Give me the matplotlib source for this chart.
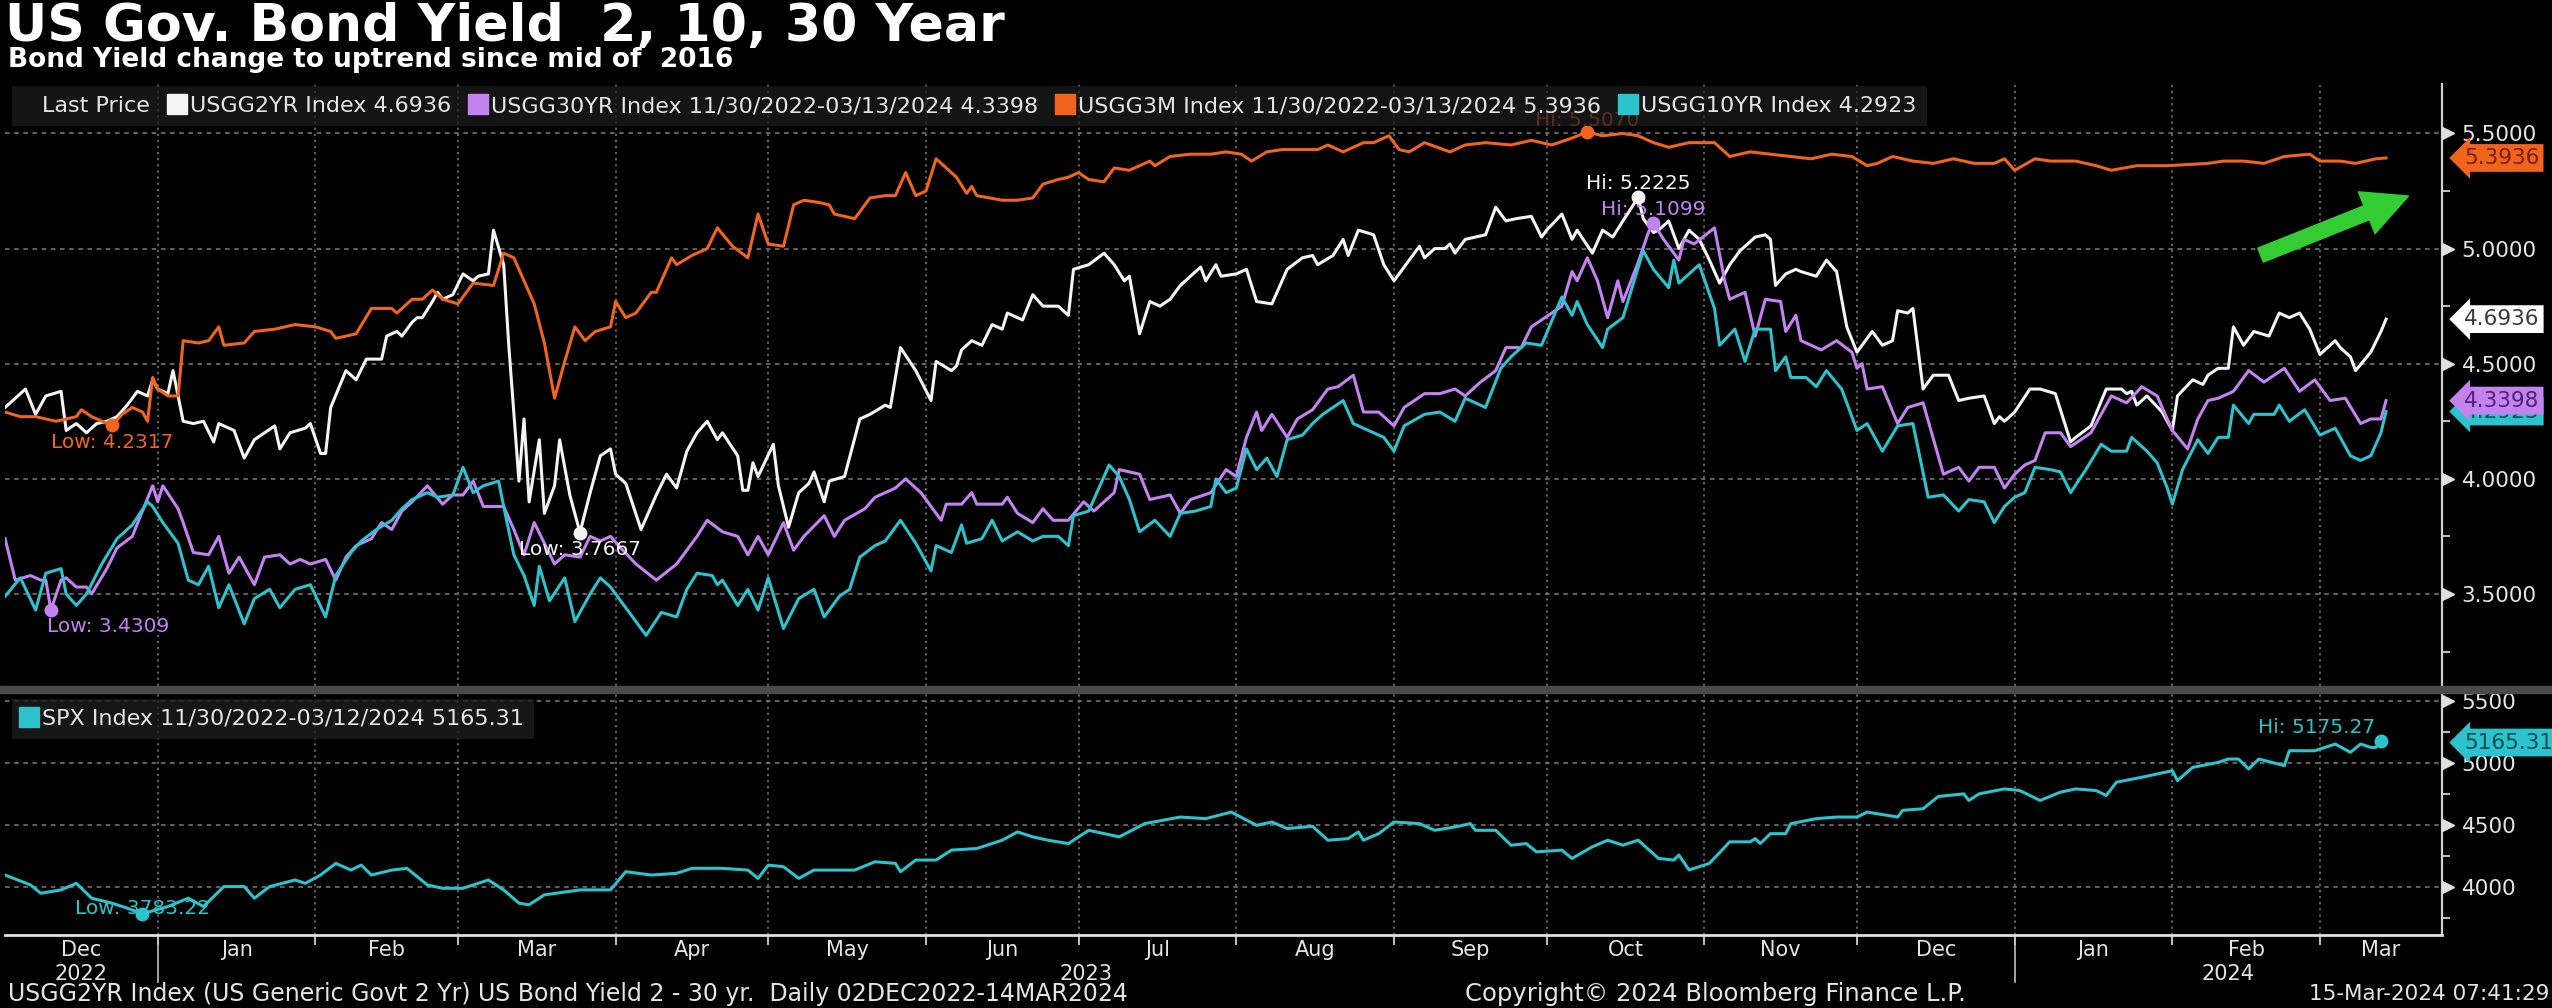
import matplotlib
matplotlib.use("Agg")
import matplotlib.pyplot as plt
import matplotlib.dates as mdates
import matplotlib.transforms as mtransforms
from matplotlib.lines import Line2D
from matplotlib.patches import Rectangle
import numpy as np
import pandas as pd

# USGG2YR (white)
y2_dates = ['2022-12-02', '2022-12-06', '2022-12-08', '2022-12-10', '2022-12-13', '2022-12-14', '2022-12-16',
            '2022-12-18', '2022-12-20', '2022-12-22', '2022-12-24', '2022-12-26', '2022-12-28', '2022-12-30',
            '2022-12-31', '2023-01-01', '2023-01-03', '2023-01-04', '2023-01-06', '2023-01-08', '2023-01-10',
            '2023-01-12', '2023-01-13', '2023-01-16', '2023-01-18', '2023-01-20', '2023-01-22', '2023-01-24',
            '2023-01-25', '2023-01-27', '2023-01-30', '2023-01-31', '2023-02-02', '2023-02-03', '2023-02-04',
            '2023-02-07', '2023-02-09', '2023-02-11', '2023-02-14', '2023-02-15', '2023-02-17', '2023-02-18',
            '2023-02-20', '2023-02-21', '2023-02-22', '2023-02-24', '2023-02-25', '2023-02-26', '2023-02-28',
            '2023-03-02', '2023-03-04', '2023-03-05', '2023-03-07', '2023-03-08', '2023-03-10', '2023-03-11',
            '2023-03-13', '2023-03-14', '2023-03-15', '2023-03-17', '2023-03-18', '2023-03-20', '2023-03-21',
            '2023-03-23', '2023-03-25', '2023-03-27', '2023-03-29', '2023-03-31', '2023-04-01', '2023-04-03',
            '2023-04-06', '2023-04-09', '2023-04-11', '2023-04-13', '2023-04-15', '2023-04-17', '2023-04-19',
            '2023-04-21', '2023-04-22', '2023-04-25', '2023-04-26', '2023-04-27', '2023-04-28', '2023-04-29',
            '2023-05-02', '2023-05-03', '2023-05-05', '2023-05-07', '2023-05-09', '2023-05-10', '2023-05-12',
            '2023-05-13', '2023-05-16', '2023-05-19', '2023-05-21', '2023-05-24', '2023-05-25', '2023-05-27',
            '2023-05-30', '2023-06-02', '2023-06-03', '2023-06-06', '2023-06-07', '2023-06-08', '2023-06-10',
            '2023-06-12', '2023-06-14', '2023-06-16', '2023-06-17', '2023-06-20', '2023-06-22', '2023-06-24',
            '2023-06-27', '2023-06-29', '2023-06-30', '2023-07-03', '2023-07-06', '2023-07-08', '2023-07-10',
            '2023-07-11', '2023-07-13', '2023-07-15', '2023-07-17', '2023-07-19', '2023-07-21', '2023-07-22',
            '2023-07-25', '2023-07-26', '2023-07-28', '2023-07-29', '2023-08-01', '2023-08-03', '2023-08-05',
            '2023-08-08', '2023-08-09', '2023-08-11', '2023-08-14', '2023-08-16', '2023-08-17', '2023-08-20',
            '2023-08-22', '2023-08-23', '2023-08-25', '2023-08-28', '2023-08-30', '2023-09-01', '2023-09-03',
            '2023-09-06', '2023-09-07', '2023-09-09', '2023-09-11', '2023-09-12', '2023-09-13', '2023-09-15',
            '2023-09-19', '2023-09-21', '2023-09-23', '2023-09-25', '2023-09-28', '2023-09-30', '2023-10-01',
            '2023-10-04', '2023-10-06', '2023-10-07', '2023-10-10', '2023-10-12', '2023-10-14', '2023-10-16',
            '2023-10-19', '2023-10-20', '2023-10-22', '2023-10-23', '2023-10-25', '2023-10-27', '2023-10-29',
            '2023-10-31', '2023-11-02', '2023-11-04', '2023-11-06', '2023-11-08', '2023-11-11', '2023-11-13',
            '2023-11-14', '2023-11-15', '2023-11-17', '2023-11-19', '2023-11-20', '2023-11-23', '2023-11-25',
            '2023-11-27', '2023-11-29', '2023-12-01', '2023-12-04', '2023-12-06', '2023-12-08', '2023-12-09',
            '2023-12-11', '2023-12-12', '2023-12-14', '2023-12-16', '2023-12-19', '2023-12-21', '2023-12-23',
            '2023-12-26', '2023-12-28', '2023-12-29', '2023-12-30', '2024-01-01', '2024-01-04', '2024-01-06',
            '2024-01-09', '2024-01-12', '2024-01-13', '2024-01-16', '2024-01-19', '2024-01-22', '2024-01-23',
            '2024-01-24', '2024-01-25', '2024-01-27', '2024-01-30', '2024-02-01', '2024-02-02', '2024-02-05',
            '2024-02-07', '2024-02-08', '2024-02-10', '2024-02-12', '2024-02-13', '2024-02-15', '2024-02-17',
            '2024-02-20', '2024-02-22', '2024-02-24', '2024-02-26', '2024-02-28', '2024-03-01', '2024-03-04',
            '2024-03-05', '2024-03-07', '2024-03-08', '2024-03-11', '2024-03-13', '2024-03-14']
y2_vals = [4.31, 4.39, 4.28, 4.36, 4.38, 4.21, 4.24, 4.20, 4.24, 4.25, 4.27, 4.32, 4.38, 4.36,
           4.43, 4.39, 4.37, 4.47, 4.25, 4.24, 4.25, 4.16, 4.24, 4.21, 4.09, 4.17, 4.20, 4.23,
           4.13, 4.20, 4.22, 4.24, 4.11, 4.11, 4.31, 4.47, 4.43, 4.52, 4.52, 4.62, 4.64, 4.62,
           4.68, 4.70, 4.70, 4.77, 4.81, 4.78, 4.80, 4.89, 4.86, 4.88, 4.89, 5.08, 4.93, 4.58,
           3.99, 4.26, 3.90, 4.17, 3.85, 3.97, 4.17, 3.93, 3.7667, 3.94, 4.10, 4.13, 4.02, 3.98,
           3.78, 3.93, 4.02, 3.96, 4.12, 4.20, 4.25, 4.17, 4.20, 4.10, 3.95, 3.95, 4.07, 4.01,
           4.15, 3.97, 3.79, 3.94, 3.98, 4.03, 3.90, 3.99, 4.01, 4.26, 4.28, 4.32, 4.31, 4.57,
           4.47, 4.34, 4.51, 4.47, 4.49, 4.56, 4.60, 4.58, 4.67, 4.65, 4.72, 4.69, 4.80, 4.75,
           4.75, 4.71, 4.91, 4.93, 4.98, 4.93, 4.86, 4.88, 4.63, 4.77, 4.75, 4.78, 4.84, 4.86,
           4.92, 4.86, 4.93, 4.88, 4.89, 4.91, 4.77, 4.76, 4.81, 4.91, 4.96, 4.97, 4.93, 4.97,
           5.04, 4.97, 5.08, 5.06, 4.93, 4.86, 4.92, 5.01, 4.96, 5.00, 5.00, 5.02, 4.98, 5.04,
           5.06, 5.18, 5.12, 5.13, 5.14, 5.05, 5.08, 5.15, 5.04, 5.08, 4.98, 5.08, 5.05, 5.12,
           5.2225, 5.13, 5.07, 5.08, 5.12, 5.00, 5.08, 5.04, 4.95, 4.85, 4.93, 4.99, 5.05, 5.06,
           5.04, 4.84, 4.89, 4.91, 4.90, 4.88, 4.95, 4.90, 4.66, 4.55, 4.64, 4.58, 4.60, 4.73,
           4.72, 4.74, 4.39, 4.45, 4.45, 4.34, 4.35, 4.36, 4.24, 4.27, 4.25, 4.29, 4.39, 4.39,
           4.37, 4.16, 4.18, 4.23, 4.39, 4.39, 4.37, 4.38, 4.32, 4.36, 4.29, 4.21, 4.36, 4.43,
           4.41, 4.45, 4.48, 4.48, 4.66, 4.58, 4.64, 4.62, 4.72, 4.70, 4.72, 4.65, 4.54, 4.60,
           4.57, 4.53, 4.47, 4.55, 4.64, 4.6936]

# USGG30YR (purple)
y30_dates = ['2022-12-02', '2022-12-04', '2022-12-07', '2022-12-09', '2022-12-10', '2022-12-11', '2022-12-13',
             '2022-12-14', '2022-12-16', '2022-12-18', '2022-12-19', '2022-12-22', '2022-12-24', '2022-12-27',
             '2022-12-29', '2022-12-31', '2023-01-01', '2023-01-02', '2023-01-05', '2023-01-06', '2023-01-08',
             '2023-01-11', '2023-01-13', '2023-01-15', '2023-01-17', '2023-01-20', '2023-01-22', '2023-01-25',
             '2023-01-27', '2023-01-29', '2023-01-31', '2023-02-03', '2023-02-05', '2023-02-07', '2023-02-09',
             '2023-02-12', '2023-02-14', '2023-02-16', '2023-02-18', '2023-02-20', '2023-02-23', '2023-02-26',
             '2023-02-28', '2023-03-02', '2023-03-04', '2023-03-06', '2023-03-08', '2023-03-10', '2023-03-12',
             '2023-03-14', '2023-03-16', '2023-03-18', '2023-03-20', '2023-03-22', '2023-03-25', '2023-03-27',
             '2023-03-29', '2023-03-31', '2023-04-02', '2023-04-05', '2023-04-09', '2023-04-13', '2023-04-15',
             '2023-04-17', '2023-04-19', '2023-04-22', '2023-04-25', '2023-04-27', '2023-04-29', '2023-05-01',
             '2023-05-04', '2023-05-06', '2023-05-08', '2023-05-12', '2023-05-14', '2023-05-16', '2023-05-20',
             '2023-05-22', '2023-05-26', '2023-05-28', '2023-05-31', '2023-06-04', '2023-06-05', '2023-06-08',
             '2023-06-10', '2023-06-11', '2023-06-16', '2023-06-17', '2023-06-19', '2023-06-22', '2023-06-24',
             '2023-06-26', '2023-06-29', '2023-07-02', '2023-07-04', '2023-07-08', '2023-07-09', '2023-07-13',
             '2023-07-15', '2023-07-19', '2023-07-21', '2023-07-23', '2023-07-27', '2023-07-30', '2023-08-01',
             '2023-08-03', '2023-08-05', '2023-08-06', '2023-08-08', '2023-08-11', '2023-08-13', '2023-08-16',
             '2023-08-19', '2023-08-21', '2023-08-24', '2023-08-26', '2023-08-29', '2023-09-01', '2023-09-03',
             '2023-09-07', '2023-09-10', '2023-09-13', '2023-09-15', '2023-09-18', '2023-09-21', '2023-09-23',
             '2023-09-26', '2023-09-28', '2023-10-02', '2023-10-04', '2023-10-06', '2023-10-07', '2023-10-09',
             '2023-10-11', '2023-10-13', '2023-10-15', '2023-10-16', '2023-10-19', '2023-10-21', '2023-10-22',
             '2023-10-24', '2023-10-27', '2023-10-28', '2023-10-30', '2023-11-03', '2023-11-05', '2023-11-06',
             '2023-11-09', '2023-11-11', '2023-11-13', '2023-11-16', '2023-11-17', '2023-11-19', '2023-11-20',
             '2023-11-24', '2023-11-27', '2023-11-30', '2023-12-01', '2023-12-02', '2023-12-03', '2023-12-06',
             '2023-12-09', '2023-12-11', '2023-12-14', '2023-12-18', '2023-12-21', '2023-12-23', '2023-12-25',
             '2023-12-28', '2023-12-30', '2024-01-01', '2024-01-03', '2024-01-05', '2024-01-07', '2024-01-10',
             '2024-01-12', '2024-01-16', '2024-01-20', '2024-01-23', '2024-01-26', '2024-01-29', '2024-02-01',
             '2024-02-04', '2024-02-06', '2024-02-08', '2024-02-10', '2024-02-13', '2024-02-16', '2024-02-19',
             '2024-02-21', '2024-02-23', '2024-02-26', '2024-02-29', '2024-03-03', '2024-03-06', '2024-03-09',
             '2024-03-11', '2024-03-13', '2024-03-14']
y30_vals = [3.74, 3.56, 3.58, 3.56, 3.56, 3.4309, 3.56, 3.57, 3.53, 3.53, 3.50, 3.61, 3.70, 3.75,
            3.86, 3.97, 3.90, 3.97, 3.87, 3.81, 3.68, 3.67, 3.75, 3.59, 3.66, 3.54, 3.66, 3.67,
            3.63, 3.65, 3.63, 3.65, 3.56, 3.66, 3.71, 3.74, 3.81, 3.78, 3.86, 3.90, 3.97, 3.89,
            3.93, 3.93, 3.99, 3.88, 3.88, 3.88, 3.78, 3.67, 3.81, 3.72, 3.63, 3.67, 3.66, 3.75,
            3.73, 3.75, 3.70, 3.63, 3.56, 3.63, 3.69, 3.75, 3.82, 3.77, 3.75, 3.67, 3.75, 3.67,
            3.81, 3.69, 3.75, 3.84, 3.75, 3.82, 3.87, 3.92, 3.96, 4.00, 3.94, 3.82, 3.89, 3.89,
            3.94, 3.89, 3.89, 3.92, 3.85, 3.81, 3.87, 3.82, 3.82, 3.90, 3.86, 3.94, 4.04, 4.02,
            3.91, 3.93, 3.85, 3.91, 3.94, 4.04, 4.01, 4.18, 4.29, 4.21, 4.28, 4.18, 4.26, 4.30,
            4.39, 4.40, 4.45, 4.29, 4.29, 4.23, 4.31, 4.37, 4.37, 4.39, 4.36, 4.42, 4.47, 4.57,
            4.57, 4.66, 4.72, 4.75, 4.90, 4.86, 4.96, 4.86, 4.70, 4.86, 4.77, 4.94, 5.07, 5.1099,
            5.04, 4.95, 5.04, 5.02, 5.09, 4.86, 4.78, 4.81, 4.62, 4.78, 4.77, 4.64, 4.71, 4.60,
            4.56, 4.60, 4.55, 4.48, 4.50, 4.39, 4.40, 4.24, 4.31, 4.33, 4.02, 4.05, 3.99, 4.05,
            4.05, 3.96, 4.02, 4.06, 4.08, 4.20, 4.20, 4.14, 4.20, 4.36, 4.33, 4.40, 4.36, 4.21,
            4.13, 4.26, 4.34, 4.35, 4.38, 4.47, 4.42, 4.45, 4.48, 4.38, 4.43, 4.34, 4.35, 4.24,
            4.26, 4.26, 4.3398]

# USGG3M (orange)
y3m_dates = ['2022-12-02', '2022-12-05', '2022-12-08', '2022-12-10', '2022-12-12', '2022-12-14', '2022-12-16',
             '2022-12-17', '2022-12-19', '2022-12-23', '2022-12-25', '2022-12-27', '2022-12-29', '2022-12-30',
             '2022-12-31', '2023-01-01', '2023-01-03', '2023-01-05', '2023-01-06', '2023-01-09', '2023-01-11',
             '2023-01-13', '2023-01-14', '2023-01-18', '2023-01-20', '2023-01-24', '2023-01-28', '2023-02-01',
             '2023-02-04', '2023-02-05', '2023-02-09', '2023-02-12', '2023-02-16', '2023-02-17', '2023-02-20',
             '2023-02-22', '2023-02-24', '2023-02-26', '2023-03-01', '2023-03-04', '2023-03-08', '2023-03-10',
             '2023-03-12', '2023-03-14', '2023-03-16', '2023-03-18', '2023-03-20', '2023-03-22', '2023-03-24',
             '2023-03-26', '2023-03-28', '2023-03-31', '2023-04-01', '2023-04-03', '2023-04-05', '2023-04-08',
             '2023-04-09', '2023-04-12', '2023-04-13', '2023-04-16', '2023-04-19', '2023-04-21', '2023-04-24',
             '2023-04-27', '2023-04-29', '2023-05-01', '2023-05-04', '2023-05-06', '2023-05-08', '2023-05-11',
             '2023-05-13', '2023-05-14', '2023-05-18', '2023-05-21', '2023-05-24', '2023-05-26', '2023-05-28',
             '2023-05-30', '2023-06-01', '2023-06-03', '2023-06-05', '2023-06-07', '2023-06-09', '2023-06-10',
             '2023-06-11', '2023-06-16', '2023-06-19', '2023-06-22', '2023-06-24', '2023-06-27', '2023-06-29',
             '2023-07-01', '2023-07-03', '2023-07-06', '2023-07-08', '2023-07-11', '2023-07-15', '2023-07-16',
             '2023-07-19', '2023-07-23', '2023-07-27', '2023-07-30', '2023-08-02', '2023-08-04', '2023-08-07',
             '2023-08-10', '2023-08-14', '2023-08-17', '2023-08-19', '2023-08-22', '2023-08-26', '2023-08-28',
             '2023-08-31', '2023-09-02', '2023-09-04', '2023-09-07', '2023-09-12', '2023-09-15', '2023-09-19',
             '2023-09-24', '2023-09-28', '2023-10-02', '2023-10-06', '2023-10-09', '2023-10-12', '2023-10-16',
             '2023-10-19', '2023-10-22', '2023-10-25', '2023-10-29', '2023-11-03', '2023-11-06', '2023-11-10',
             '2023-11-14', '2023-11-18', '2023-11-22', '2023-11-26', '2023-11-30', '2023-12-03', '2023-12-05',
             '2023-12-08', '2023-12-12', '2023-12-16', '2023-12-20', '2023-12-24', '2023-12-28', '2023-12-30',
             '2024-01-01', '2024-01-05', '2024-01-08', '2024-01-13', '2024-01-17', '2024-01-20', '2024-01-25',
             '2024-01-31', '2024-02-08', '2024-02-11', '2024-02-15', '2024-02-19', '2024-02-23', '2024-02-28',
             '2024-03-01', '2024-03-05', '2024-03-08', '2024-03-10', '2024-03-12', '2024-03-14']
y3m_vals = [4.29, 4.27, 4.27, 4.26, 4.25, 4.26, 4.27, 4.30, 4.27, 4.2317, 4.28, 4.31, 4.29, 4.25,
            4.44, 4.39, 4.36, 4.36, 4.60, 4.59, 4.60, 4.66, 4.58, 4.59, 4.64, 4.65, 4.67, 4.66,
            4.64, 4.61, 4.63, 4.74, 4.74, 4.72, 4.78, 4.78, 4.82, 4.78, 4.76, 4.85, 4.84, 4.98,
            4.96, 4.86, 4.76, 4.59, 4.35, 4.51, 4.66, 4.60, 4.64, 4.66, 4.77, 4.70, 4.72, 4.81,
            4.81, 4.96, 4.93, 4.97, 5.00, 5.09, 5.01, 4.96, 5.15, 5.02, 5.01, 5.19, 5.21, 5.20,
            5.19, 5.15, 5.13, 5.22, 5.23, 5.23, 5.33, 5.23, 5.25, 5.39, 5.35, 5.31, 5.24, 5.27,
            5.23, 5.21, 5.21, 5.22, 5.28, 5.30, 5.31, 5.33, 5.30, 5.29, 5.35, 5.34, 5.38, 5.36,
            5.40, 5.41, 5.41, 5.42, 5.41, 5.38, 5.42, 5.43, 5.43, 5.43, 5.45, 5.42, 5.46, 5.46,
            5.49, 5.43, 5.42, 5.46, 5.42, 5.45, 5.46, 5.45, 5.47, 5.45, 5.48, 5.507, 5.49, 5.50,
            5.49, 5.46, 5.44, 5.46, 5.46, 5.40, 5.42, 5.41, 5.40, 5.39, 5.41, 5.40, 5.36, 5.37,
            5.40, 5.38, 5.37, 5.39, 5.37, 5.37, 5.39, 5.34, 5.39, 5.38, 5.38, 5.36, 5.34, 5.36,
            5.36, 5.37, 5.38, 5.38, 5.37, 5.40, 5.41, 5.38, 5.38, 5.37, 5.38, 5.39, 5.3936]

# USGG10YR (cyan)
y10_dates = ['2022-12-02', '2022-12-05', '2022-12-08', '2022-12-10', '2022-12-13', '2022-12-14', '2022-12-16',
             '2022-12-18', '2022-12-21', '2022-12-24', '2022-12-27', '2022-12-30', '2022-12-31', '2023-01-02',
             '2023-01-05', '2023-01-07', '2023-01-09', '2023-01-11', '2023-01-13', '2023-01-15', '2023-01-18',
             '2023-01-20', '2023-01-23', '2023-01-25', '2023-01-28', '2023-01-31', '2023-02-03', '2023-02-05',
             '2023-02-08', '2023-02-10', '2023-02-13', '2023-02-16', '2023-02-18', '2023-02-20', '2023-02-23',
             '2023-02-25', '2023-02-28', '2023-03-02', '2023-03-04', '2023-03-06', '2023-03-09', '2023-03-10',
             '2023-03-12', '2023-03-14', '2023-03-16', '2023-03-17', '2023-03-19', '2023-03-22', '2023-03-24',
             '2023-03-27', '2023-03-29', '2023-03-31', '2023-04-04', '2023-04-07', '2023-04-10', '2023-04-13',
             '2023-04-15', '2023-04-17', '2023-04-20', '2023-04-21', '2023-04-22', '2023-04-25', '2023-04-27',
             '2023-04-29', '2023-05-01', '2023-05-04', '2023-05-07', '2023-05-10', '2023-05-12', '2023-05-15',
             '2023-05-17', '2023-05-19', '2023-05-22', '2023-05-24', '2023-05-27', '2023-05-30', '2023-06-02',
             '2023-06-03', '2023-06-06', '2023-06-08', '2023-06-09', '2023-06-12', '2023-06-14', '2023-06-16',
             '2023-06-19', '2023-06-22', '2023-06-24', '2023-06-27', '2023-06-29', '2023-06-30', '2023-07-03',
             '2023-07-07', '2023-07-09', '2023-07-11', '2023-07-13', '2023-07-16', '2023-07-19', '2023-07-21',
             '2023-07-24', '2023-07-27', '2023-07-28', '2023-07-30', '2023-08-01', '2023-08-03', '2023-08-05',
             '2023-08-07', '2023-08-09', '2023-08-11', '2023-08-14', '2023-08-16', '2023-08-18', '2023-08-22',
             '2023-08-24', '2023-08-27', '2023-08-30', '2023-09-01', '2023-09-03', '2023-09-07', '2023-09-10',
             '2023-09-13', '2023-09-15', '2023-09-19', '2023-09-22', '2023-09-24', '2023-09-27', '2023-09-30',
             '2023-10-04', '2023-10-06', '2023-10-07', '2023-10-09', '2023-10-12', '2023-10-13', '2023-10-16',
             '2023-10-20', '2023-10-22', '2023-10-25', '2023-10-26', '2023-10-27', '2023-10-31', '2023-11-03',
             '2023-11-04', '2023-11-07', '2023-11-09', '2023-11-11', '2023-11-14', '2023-11-15', '2023-11-17',
             '2023-11-18', '2023-11-21', '2023-11-23', '2023-11-25', '2023-11-28', '2023-12-01', '2023-12-03',
             '2023-12-06', '2023-12-09', '2023-12-12', '2023-12-15', '2023-12-18', '2023-12-21', '2023-12-23',
             '2023-12-26', '2023-12-28', '2023-12-30', '2024-01-01', '2024-01-03', '2024-01-05', '2024-01-08',
             '2024-01-10', '2024-01-12', '2024-01-15', '2024-01-18', '2024-01-20', '2024-01-23', '2024-01-24',
             '2024-01-27', '2024-01-29', '2024-01-31', '2024-02-01', '2024-02-03', '2024-02-06', '2024-02-08',
             '2024-02-10', '2024-02-12', '2024-02-13', '2024-02-16', '2024-02-17', '2024-02-21', '2024-02-22',
             '2024-02-24', '2024-02-27', '2024-03-01', '2024-03-04', '2024-03-07', '2024-03-09', '2024-03-11',
             '2024-03-13', '2024-03-14']
y10_vals = [3.49, 3.57, 3.43, 3.59, 3.61, 3.50, 3.45, 3.50, 3.63, 3.74, 3.80, 3.90, 3.88, 3.81,
            3.72, 3.56, 3.54, 3.62, 3.44, 3.54, 3.37, 3.48, 3.52, 3.44, 3.52, 3.54, 3.40, 3.58,
            3.68, 3.73, 3.78, 3.82, 3.87, 3.91, 3.94, 3.92, 3.93, 4.05, 3.94, 3.97, 3.99, 3.88,
            3.67, 3.58, 3.45, 3.62, 3.47, 3.57, 3.38, 3.50, 3.57, 3.53, 3.41, 3.32, 3.42, 3.40,
            3.52, 3.59, 3.58, 3.54, 3.56, 3.45, 3.52, 3.43, 3.57, 3.35, 3.48, 3.52, 3.40, 3.49,
            3.52, 3.66, 3.71, 3.73, 3.82, 3.72, 3.60, 3.71, 3.68, 3.80, 3.72, 3.74, 3.82, 3.73,
            3.77, 3.73, 3.75, 3.75, 3.71, 3.84, 3.86, 4.06, 4.01, 3.91, 3.77, 3.82, 3.75, 3.85,
            3.86, 3.88, 4.00, 3.94, 3.96, 4.13, 4.04, 4.09, 4.01, 4.17, 4.19, 4.24, 4.28, 4.34,
            4.24, 4.21, 4.18, 4.12, 4.23, 4.28, 4.29, 4.25, 4.35, 4.31, 4.48, 4.53, 4.59, 4.58,
            4.79, 4.71, 4.77, 4.67, 4.57, 4.65, 4.70, 4.99, 4.91, 4.83, 4.95, 4.85, 4.93, 4.74,
            4.58, 4.65, 4.51, 4.65, 4.65, 4.47, 4.53, 4.44, 4.44, 4.40, 4.47, 4.39, 4.21, 4.24,
            4.12, 4.23, 4.24, 3.92, 3.93, 3.86, 3.91, 3.90, 3.81, 3.88, 3.92, 3.94, 4.05, 4.04,
            4.03, 3.94, 4.04, 4.15, 4.12, 4.12, 4.18, 4.12, 4.07, 3.96, 3.89, 4.04, 4.17, 4.11,
            4.18, 4.18, 4.32, 4.24, 4.28, 4.28, 4.32, 4.25, 4.30, 4.19, 4.22, 4.10, 4.08, 4.10,
            4.20, 4.2923]

# SPX Index (lower panel)
spx_dates = ['2022-12-02', '2022-12-07', '2022-12-09', '2022-12-13', '2022-12-16', '2022-12-19', '2022-12-23',
             '2022-12-26', '2022-12-29', '2023-01-03', '2023-01-07', '2023-01-10', '2023-01-14', '2023-01-18',
             '2023-01-20', '2023-01-23', '2023-01-28', '2023-01-30', '2023-02-02', '2023-02-05', '2023-02-08',
             '2023-02-10', '2023-02-12', '2023-02-16', '2023-02-19', '2023-02-23', '2023-02-26', '2023-03-02',
             '2023-03-07', '2023-03-10', '2023-03-13', '2023-03-15', '2023-03-18', '2023-03-25', '2023-03-31',
             '2023-04-03', '2023-04-08', '2023-04-13', '2023-04-16', '2023-04-22', '2023-04-27', '2023-04-29',
             '2023-05-01', '2023-05-04', '2023-05-07', '2023-05-10', '2023-05-18', '2023-05-22', '2023-05-26',
             '2023-05-27', '2023-05-30', '2023-06-03', '2023-06-06', '2023-06-11', '2023-06-16', '2023-06-19',
             '2023-06-22', '2023-06-25', '2023-06-29', '2023-07-03', '2023-07-09', '2023-07-14', '2023-07-21',
             '2023-07-26', '2023-07-31', '2023-08-05', '2023-08-08', '2023-08-11', '2023-08-16', '2023-08-19',
             '2023-08-23', '2023-08-25', '2023-08-26', '2023-08-29', '2023-09-01', '2023-09-06', '2023-09-09',
             '2023-09-13', '2023-09-16', '2023-09-17', '2023-09-21', '2023-09-24', '2023-09-27', '2023-09-29',
             '2023-10-04', '2023-10-06', '2023-10-10', '2023-10-13', '2023-10-16', '2023-10-19', '2023-10-23',
             '2023-10-26', '2023-10-27', '2023-10-29', '2023-11-02', '2023-11-06', '2023-11-10', '2023-11-11',
             '2023-11-12', '2023-11-14', '2023-11-17', '2023-11-18', '2023-11-23', '2023-11-27', '2023-12-01',
             '2023-12-03', '2023-12-09', '2023-12-10', '2023-12-14', '2023-12-17', '2023-12-22', '2023-12-23',
             '2023-12-25', '2023-12-30', '2024-01-02', '2024-01-06', '2024-01-10', '2024-01-13', '2024-01-17',
             '2024-01-19', '2024-01-21', '2024-01-26', '2024-02-01', '2024-02-02', '2024-02-05', '2024-02-10',
             '2024-02-12', '2024-02-14', '2024-02-16', '2024-02-18', '2024-02-23', '2024-02-24', '2024-02-29',
             '2024-03-04', '2024-03-07', '2024-03-09', '2024-03-11', '2024-03-12', '2024-03-13', '2024-03-14']
spx_vals = [4096, 4016, 3949, 3976, 4029, 3909, 3869, 3829, 3783.22, 3842, 3909, 3842, 4003, 4003,
            3909, 4003, 4056, 4029, 4096, 4190, 4136, 4176, 4096, 4136, 4150, 4016, 3989, 3989,
            4056, 3976, 3869, 3856, 3936, 3976, 3976, 4123, 4096, 4110, 4150, 4150, 4136, 4069,
            4176, 4163, 4069, 4136, 4136, 4203, 4190, 4123, 4217, 4217, 4297, 4310, 4377, 4444,
            4404, 4377, 4350, 4457, 4404, 4511, 4564, 4551, 4604, 4497, 4524, 4471, 4489, 4377,
            4390, 4444, 4377, 4430, 4524, 4511, 4457, 4484, 4511, 4457, 4457, 4337, 4350, 4283,
            4297, 4230, 4324, 4377, 4337, 4377, 4230, 4217, 4257, 4137, 4190, 4364, 4364, 4390,
            4350, 4430, 4430, 4511, 4551, 4564, 4564, 4604, 4564, 4618, 4631, 4730, 4751, 4698,
            4751, 4791, 4778, 4698, 4765, 4791, 4778, 4738, 4845, 4885, 4938, 4858, 4965, 5005,
            5032, 5032, 4952, 5032, 4979, 5099, 5099, 5153, 5086, 5153, 5126, 5126, 5175.27, 5165.31]

yield_ticks = [3.5, 4.0, 4.5, 5.0, 5.5]
spx_ticks = [4000, 4500, 5000, 5500]

C_2Y = '#f4f4f4'
C_30Y = '#c382f0'
C_3M = '#f0641e'
C_10Y = '#2cc3cc'
GRID = '#7c7c7c'
TXT = '#e4e4e4'

x_start = pd.Timestamp('2022-12-02')
x_end = pd.Timestamp('2024-03-25')

series = [
    ('USGG2YR Index', pd.to_datetime(y2_dates), np.array(y2_vals), C_2Y, ''),
    ('USGG30YR Index', pd.to_datetime(y30_dates), np.array(y30_vals), C_30Y, ' 11/30/2022-03/13/2024'),
    ('USGG3M Index', pd.to_datetime(y3m_dates), np.array(y3m_vals), C_3M, ' 11/30/2022-03/13/2024'),
    ('USGG10YR Index', pd.to_datetime(y10_dates), np.array(y10_vals), C_10Y, ''),
]
spx_x = pd.to_datetime(spx_dates)
spx_y = np.array(spx_vals)

plt.rcParams['font.family'] = 'DejaVu Sans'

fig = plt.figure(figsize=(25.52, 10.08), dpi=100, facecolor='black')
ax1 = fig.add_axes([0.002, 0.3194, 0.9549, 0.5973], facecolor='black')
ax2 = fig.add_axes([0.002, 0.0724, 0.9549, 0.2401], facecolor='black', sharex=ax1)

for name, x, y, c, rng in series:
    ax1.plot(x, y, color=c, lw=2.2, zorder=3)
ax2.plot(spx_x, spx_y, color=C_10Y, lw=2.2, zorder=3)

ax1.set_xlim(x_start, x_end)
ax1.set_ylim(3.10, 5.715)
ax2.set_ylim(3612, 5565)

for ax in (ax1, ax2):
    for s in ('top', 'left', 'bottom'):
        ax.spines[s].set_visible(False)
    ax.spines['right'].set_color('#d0d0d0')
    ax.spines['right'].set_linewidth(1.6)
    ax.yaxis.tick_right()
    ax.xaxis.set_major_locator(mdates.MonthLocator())
    ax.grid(True, axis='x', color=GRID, ls=(0, (1.5, 2.5)), lw=1.1)
    ax.grid(True, axis='y', color=GRID, ls=(0, (3, 3)), lw=1.1)
    ax.tick_params(axis='y', which='major', length=0, pad=14, labelsize=15.5, labelcolor=TXT)
    ax.tick_params(axis='y', which='minor', length=6, width=1.3, color='#d0d0d0', direction='out')

ax2.spines['bottom'].set_visible(True)
ax2.spines['bottom'].set_color('#e0e0e0')
ax2.spines['bottom'].set_linewidth(2)

ax1.set_yticks(yield_ticks)
ax1.set_yticks([t + 0.25 for t in yield_ticks[:-1]] + [3.25], minor=True)
ax1.set_yticklabels([f'{t:.4f}' for t in yield_ticks])
ax2.set_yticks(spx_ticks)
ax2.set_yticks([t - 250 for t in spx_ticks], minor=True)
ax2.set_yticklabels([f'{t:d}' for t in spx_ticks])

ax1.tick_params(axis='x', length=0, labelbottom=False)
ax2.tick_params(axis='x', which='major', length=7, width=1.3, color='#d0d0d0', direction='out', labelbottom=False)

# triangle markers at the major y ticks
for ax, ticks in ((ax1, yield_ticks), (ax2, spx_ticks)):
    tr = mtransforms.blended_transform_factory(ax.transAxes, ax.transData) + \
        mtransforms.ScaledTranslation(4 / 72, 0, fig.dpi_scale_trans)
    ax.plot([1] * len(ticks), ticks, ls='none', marker='>', ms=9, color='#e0e0e0',
            transform=tr, clip_on=False, zorder=6)

# month and year labels along the bottom axis
months = pd.date_range('2022-12-01', '2024-03-01', freq='MS')
for m in months:
    a = max(m, x_start)
    b = min(m + pd.offsets.MonthBegin(1), x_end)
    ax2.text(a + (b - a) / 2, -0.062, m.strftime('%b'), transform=ax2.get_xaxis_transform(),
             ha='center', va='center', fontsize=15, color=TXT)
for yr in (2022, 2023, 2024):
    a = max(pd.Timestamp(f'{yr}-01-01'), x_start)
    b = min(pd.Timestamp(f'{yr + 1}-01-01'), x_end)
    ax2.text(a + (b - a) / 2, -0.16, str(yr), transform=ax2.get_xaxis_transform(),
             ha='center', va='center', fontsize=15, color=TXT)
    if yr > 2022:
        ax2.axvline(pd.Timestamp(f'{yr}-01-01'), ymin=-0.195, ymax=0, color='#c0c0c0', lw=1.2, clip_on=False)

# legends
handles = [Line2D([], [], ls='none')]
labels = ['Last Price']
for name, x, y, c, rng in series:
    handles.append(Line2D([], [], ls='none', marker='s', ms=15, color=c))
    labels.append(f'{name}{rng} {y[-1]:.4f}')
leg = ax1.legend(handles, labels, loc='upper left', bbox_to_anchor=(0.002, 1.0), ncol=5, fontsize=16,
                 frameon=True, fancybox=False, facecolor='#1c1c1c', edgecolor='none', framealpha=0.72,
                 labelcolor=TXT, handlelength=0.6, handletextpad=0.3, columnspacing=0.9,
                 borderpad=0.45, borderaxespad=0.1)
leg.set_zorder(8)

leg2 = ax2.legend([Line2D([], [], ls='none', marker='s', ms=15, color=C_10Y)],
                  [f'SPX Index 11/30/2022-03/12/2024 {spx_y[-1]:.2f}'], loc='upper left',
                  bbox_to_anchor=(0.002, 0.985), fontsize=16, frameon=True, fancybox=False,
                  facecolor='#1c1c1c', edgecolor='none', framealpha=0.8, labelcolor=TXT,
                  handlelength=0.6, handletextpad=0.3, borderpad=0.45, borderaxespad=0.1)
leg2.set_zorder(8)


def mark(ax, x, y, kind, color, fmt, dx, dy, ha):
    i = int(np.argmax(y)) if kind == 'Hi' else int(np.argmin(y))
    ax.plot(x[i], y[i], 'o', color=color, ms=9, zorder=5)
    ax.annotate(f'{kind}: {y[i]:{fmt}}', xy=(x[i], y[i]), xytext=(dx, dy), textcoords='offset points',
                ha=ha, va='center', fontsize=14.5, color=color, zorder=4)


s2, s30, s3m, s10 = series
mark(ax1, s3m[1], s3m[2], 'Hi', C_3M, '.4f', 0, 8, 'center')
mark(ax1, s3m[1], s3m[2], 'Low', C_3M, '.4f', 0, -12, 'center')
mark(ax1, s2[1], s2[2], 'Hi', C_2Y, '.4f', 0, 10, 'center')
mark(ax1, s2[1], s2[2], 'Low', C_2Y, '.4f', 0, -12, 'center')
mark(ax1, s30[1], s30[2], 'Hi', C_30Y, '.4f', 0, 10, 'center')
mark(ax1, s30[1], s30[2], 'Low', C_30Y, '.4f', -3, -12, 'left')
mark(ax2, spx_x, spx_y, 'Hi', C_10Y, '.2f', -4, 10, 'right')
mark(ax2, spx_x, spx_y, 'Low', C_10Y, '.2f', 0, 4, 'center')


def price_tag(ax, value, text, fc, tc):
    tr = mtransforms.blended_transform_factory(ax.transAxes, ax.transData) + \
        mtransforms.ScaledTranslation(16 / 72, 0, fig.dpi_scale_trans)
    ax.text(1.0, value, text, transform=tr, ha='left', va='center', fontsize=15.5, color=tc,
            bbox=dict(boxstyle='larrow,pad=0.18', fc=fc, ec='none'), clip_on=False, zorder=7)


price_tag(ax1, s10[2][-1], f'{s10[2][-1]:.4f}', C_10Y, '#0d4d52')
price_tag(ax1, s30[2][-1], f'{s30[2][-1]:.4f}', C_30Y, '#4e2470')
price_tag(ax1, s2[2][-1], f'{s2[2][-1]:.4f}', '#ffffff', '#3a3a3a')
price_tag(ax1, s3m[2][-1], f'{s3m[2][-1]:.4f}', C_3M, '#7a1e00')
price_tag(ax2, spx_y[-1], f'{spx_y[-1]:.2f}', C_10Y, '#0d4d52')

# green trend arrow
ax1.annotate('', xy=(0.9873, 0.8156), xytext=(0.9245, 0.714), xycoords='axes fraction',
             arrowprops=dict(arrowstyle='simple,head_width=1.2,head_length=1.2,tail_width=0.4',
                             color='#33cc33', mutation_scale=27), zorder=6)

# separator band between the panels
fig.patches.append(Rectangle((0, 1 - 693 / 1008), 1, 7 / 1008, transform=fig.transFigure,
                             color='#4a4a4a', zorder=1))

fig.text(0.002, 0.973, 'US Gov. Bond Yield  2, 10, 30 Year', fontsize=37.5, fontweight='bold',
         color='white', va='center', ha='left')
fig.text(0.003, 0.940, 'Bond Yield change to uptrend since mid of  2016', fontsize=19,
         fontweight='bold', color='white', va='center', ha='left')

fig.text(0.003, 0.0135, 'USGG2YR Index (US Generic Govt 2 Yr) US Bond Yield 2 - 30 yr.  Daily 02DEC2022-14MAR2024',
         fontsize=17, color=TXT, va='center', ha='left')
fig.text(0.672, 0.0135, 'Copyright\u00a9 2024 Bloomberg Finance L.P.', fontsize=17.5, color=TXT,
         va='center', ha='center')
fig.text(0.999, 0.0135, '15-Mar-2024 07:41:29', fontsize=15.5, color=TXT, va='center', ha='right')

fig.savefig('out.png', dpi=100, facecolor='black')
